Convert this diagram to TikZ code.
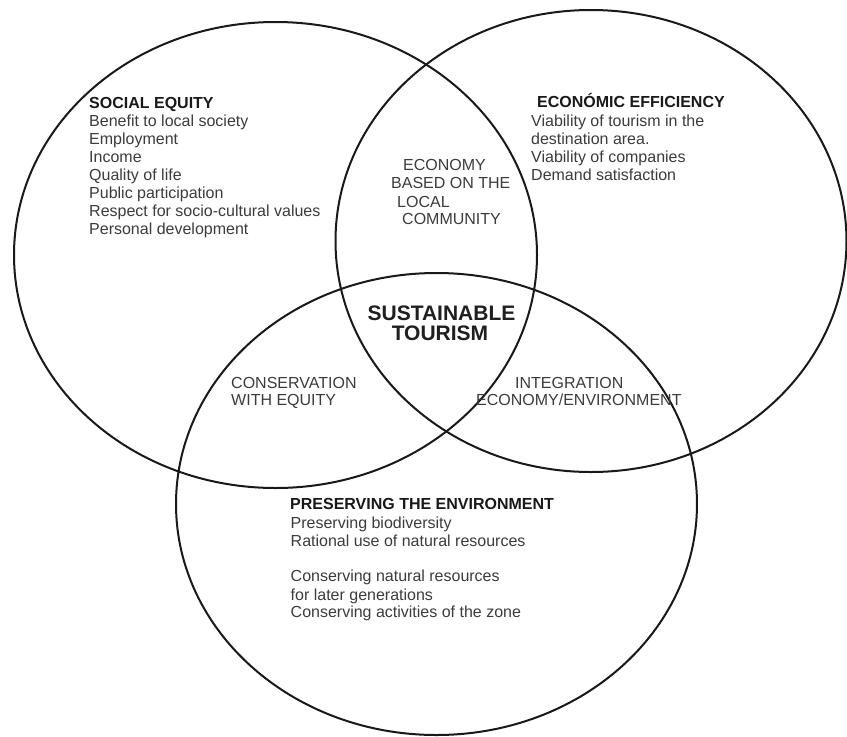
\documentclass[tikz,border=0pt]{standalone}
\usepackage{fontspec}
\setmainfont{Liberation Sans}
\definecolor{textgray}{HTML}{3C3C3C}
\begin{document}
\begin{tikzpicture}[x=1pt,y=-1pt,
  ring/.style={draw=black!90, line width=2pt},
  head/.style={font=\fontsize{16}{18}\selectfont\bfseries, text=black!90, inner sep=0pt, anchor=base west},
  body/.style={font=\fontsize{16}{18}\selectfont, text=textgray, inner sep=0pt, anchor=base west},
  core/.style={font=\fontsize{21}{20}\selectfont\bfseries, text=black!88, inner sep=0pt, anchor=base},
]
\useasboundingbox (0,0) rectangle (847,737);
\fill[white] (0,0) rectangle (847,737);
% circles
\draw[ring] (275.5,255) ellipse [x radius=261.5pt, y radius=233pt];
\draw[ring] (591,241) ellipse [x radius=255.5pt, y radius=231pt];
\draw[ring] (436.5,504) ellipse [x radius=260.5pt, y radius=231pt];
% social equity
\node[head] (seh) at (89,108.3) {SOCIAL EQUITY};
\foreach \t [count=\i] in {Benefit to local society, Employment, Income, Quality of life, Public participation, Respect for socio-cultural values, Personal development}
  \node[body] (se\i) at (89,126.7+17.9*\i-17.9) {\t};
% economic efficiency
\node[head] (eeh) at (537,107.8) {ECONÓMIC EFFICIENCY};
\foreach \t [count=\i] in {Viability of tourism in the, destination area., Viability of companies, Demand satisfaction}
  \node[body] (ee\i) at (531,126.7+17.8*\i-17.8) {\t};
% economy based on local community
\node[body] (ec1) at (403,170.5) {ECONOMY};
\node[body] (ec2) at (391,188.7) {BASED ON THE};
\node[body] (ec3) at (397,207.5) {LOCAL};
\node[body] (ec4) at (402,224.7) {COMMUNITY};
% sustainable tourism
\node[core] (st1) at (441.5,320.5) {SUSTAINABLE};
\node[core] (st2) at (440,340.5) {TOURISM};
% conservation with equity
\node[body] (cw1) at (231,388.3) {CONSERVATION};
\node[body] (cw2) at (231,405.3) {WITH EQUITY};
% integration
\node[body] (ig1) at (515,388.3) {INTEGRATION};
\node[body] (ig2) at (476,405.3) {ECONOMY/ENVIRONMENT};
% preserving the environment
\node[head] (peh) at (290,509.3) {PRESERVING THE ENVIRONMENT};
\node[body] (pe1) at (290.5,528.3) {Preserving biodiversity};
\node[body] (pe2) at (290.5,546.7) {Rational use of natural resources};
\node[body] (pe3) at (290.5,581) {Conserving natural resources};
\node[body] (pe4) at (290.5,600) {for later generations};
\node[body] (pe5) at (290.5,617.7) {Conserving activities of the zone};
\end{tikzpicture}
\end{document}
